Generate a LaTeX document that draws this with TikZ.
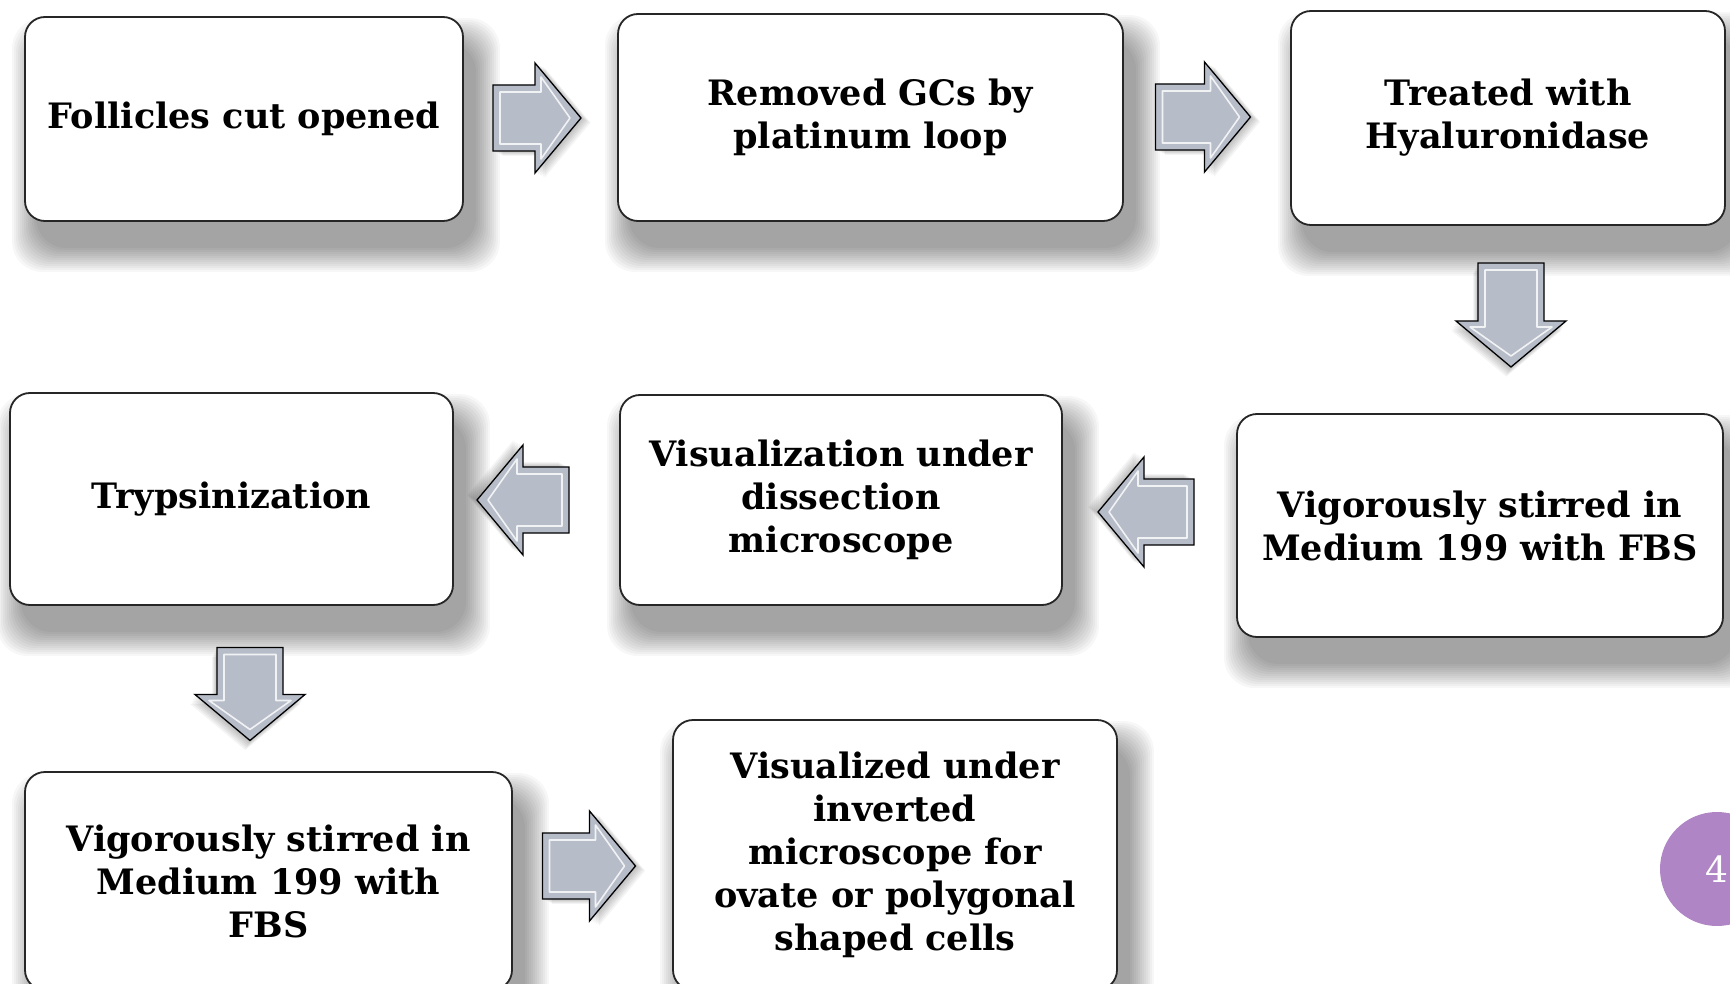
\documentclass[tikz,border=0pt]{standalone}
\usepackage{fontspec}
\setmainfont{DejaVu Serif}
\pgfdeclarelayer{background}
\pgfsetlayers{background,main}
\definecolor{arrfill}{RGB}{183,188,201}
\definecolor{pagenum}{RGB}{175,133,197}
\tikzset{
  box/.style={draw=black!85, line width=1.8pt, rounded corners=20pt, fill=white,
    align=center, inner sep=0pt,
    font=\fontsize{35}{43}\selectfont\bfseries},
  shadowlayer/.style={fill=black, opacity=0.03, rounded corners=30pt},
  arrbody/.style={fill=arrfill, draw=black, line width=1.3pt, line join=miter},
  arrshadow/.style={fill=black, opacity=0.045},
  arrshine/.style={draw=white!80!arrfill, line width=1.6pt, line join=round},
  pics/blockarr/.style={code={
    \foreach \k in {1,...,6}{
      \path[arrshadow, shift={({1.6*\k},{0.8*\k})}] ({-#1/2},-33) -- ({#1/2-46},-33) -- ({#1/2-46},-55) -- ({#1/2},0)
         -- ({#1/2-46},55) -- ({#1/2-46},33) -- ({-#1/2},33) -- cycle;
    }
    \path[arrbody] ({-#1/2},-33) -- ({#1/2-46},-33) -- ({#1/2-46},-55) -- ({#1/2},0)
       -- ({#1/2-46},55) -- ({#1/2-46},33) -- ({-#1/2},33) -- cycle;
    \draw[arrshine] ({-#1/2+7},-26) -- ({#1/2-40},-26) -- ({#1/2-40},-41) -- ({#1/2-11},0)
       -- ({#1/2-40},41) -- ({#1/2-40},26) -- ({-#1/2+7},26) -- cycle;
  }}
}
\begin{document}
\begin{tikzpicture}[x=1pt,y=-1pt]
\useasboundingbox (0,0) rectangle (1730,984);
\clip (0,0) rectangle (1730,984);

\node[box, minimum width=438pt, minimum height=204pt] (b1) at (244,119) {Follicles cut opened};
\node[box, minimum width=505pt, minimum height=207pt] (b2) at (870.5,117.5) {Removed GCs by\\platinum loop};
\node[box, minimum width=434pt, minimum height=214pt] (b3) at (1508,118) {Treated with\\Hyaluronidase};
\node[box, minimum width=486pt, minimum height=223pt] (b4) at (1480,525.5) {Vigorously stirred in\\Medium 199 with FBS};
\node[box, minimum width=442pt, minimum height=210pt] (b5) at (841,500) {Visualization under\\dissection\\microscope};
\node[box, minimum width=443pt, minimum height=212pt] (b6) at (231.5,499) {Trypsinization};
\node[box, minimum width=487pt, minimum height=218pt] (b7) at (268.5,881) {Vigorously stirred in\\Medium 199 with\\FBS};
\node[box, minimum width=444pt, minimum height=270pt] (b8) at (895,855) {Visualized under\\inverted\\microscope for\\ovate or polygonal\\shaped cells};

\begin{pgfonlayer}{background}
  \fill[white] (0,0) rectangle (1730,984);
  \foreach \n in {b1,b2,b3,b4,b5,b6,b7,b8}{
    \foreach \i in {0,2,...,24}{
      \path[shadowlayer] ([shift={({12-24+\i},{26-24+\i})}]\n.north west)
        rectangle ([shift={({12+24-\i},{26+24-\i})}]\n.south east);
    }
  }
\end{pgfonlayer}

\pic (a1) at (537,118) {blockarr={88}};
\pic (a2) at (1203,117) {blockarr={95}};
\pic[rotate=-90] (a3) at (1511,315) {blockarr={104}};
\pic[rotate=180] (a4) at (1146,512) {blockarr={96}};
\pic[rotate=180] (a5) at (523,500) {blockarr={92}};
\pic[rotate=-90] (a6) at (250,694) {blockarr={93}};
\pic (a7) at (589,866) {blockarr={93}};

\node[circle, fill=pagenum, minimum size=114pt, inner sep=0pt, text=white,
      font=\fontsize{36}{36}\selectfont] (pg) at (1717,869) {4};
\end{tikzpicture}
\end{document}
